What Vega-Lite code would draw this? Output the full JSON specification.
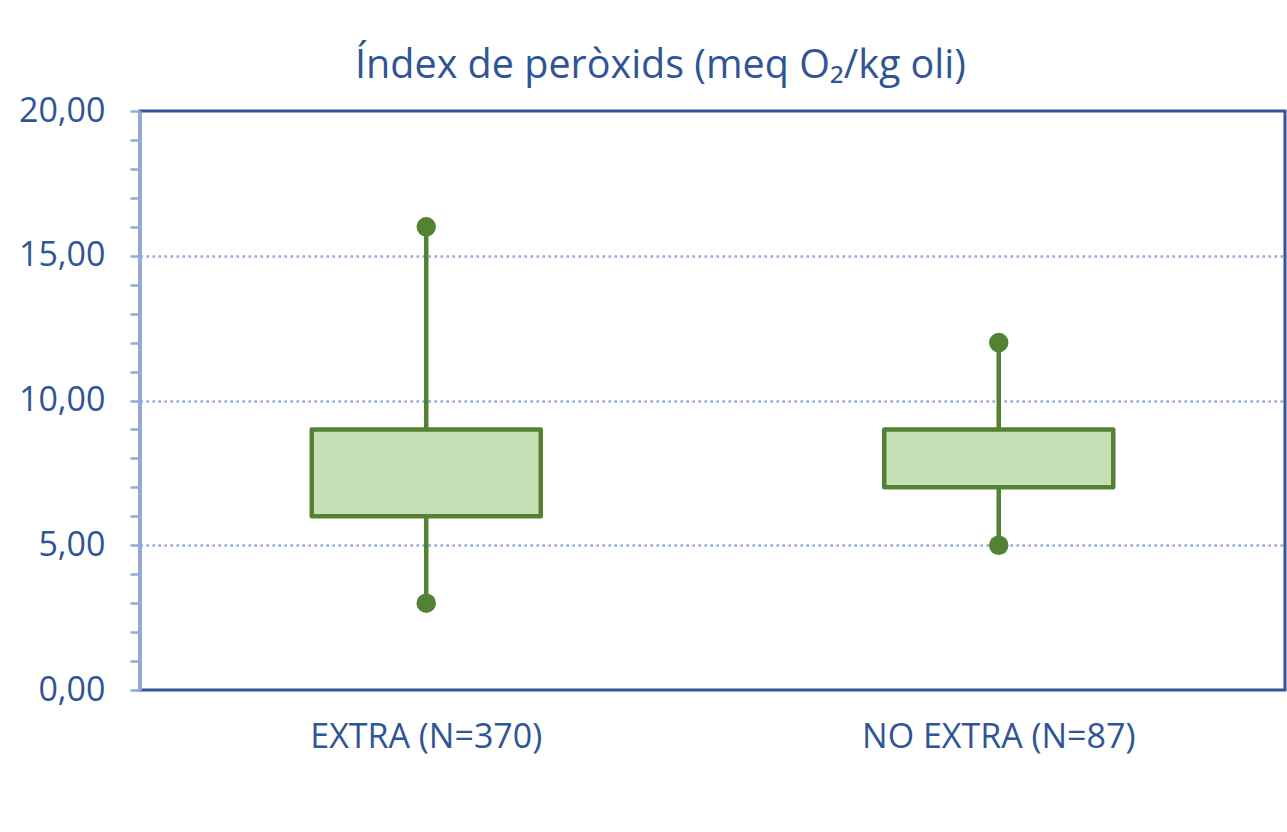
{
  "$schema": "https://vega.github.io/schema/vega-lite/v6.json",
  "autosize": {"type": "none"},
  "padding": {"left": 140, "top": 111, "right": 2, "bottom": 142},
  "width": 1145,
  "height": 579,
  "background": "white",
  "title": {
    "text": "Índex de peròxids (meq O₂/kg oli)",
    "font": "Open Sans",
    "fontSize": 39.5,
    "fontWeight": "normal",
    "color": "#2f5597",
    "anchor": "middle",
    "dx": -52,
    "offset": 8
  },
  "config": {
    "locale": {"number": {"decimal": ",", "thousands": ".", "grouping": [3], "currency": ["", " €"]}},
    "view": {"stroke": "#2f5597", "strokeWidth": 3},
    "font": "Open Sans"
  },
  "data": {
    "values": [
      {"cat": "EXTRA (N=370)", "min": 3, "q1": 6, "q3": 9, "max": 16},
      {"cat": "NO EXTRA (N=87)", "min": 5, "q1": 7, "q3": 9, "max": 12}
    ]
  },
  "encoding": {
    "x": {
      "field": "cat",
      "type": "nominal",
      "sort": null,
      "title": null,
      "scale": {"paddingInner": 0, "paddingOuter": 0},
      "axis": {
        "labelAngle": 0,
        "labelFont": "Open Sans",
        "labelFontSize": 34,
        "labelColor": "#2f5597",
        "labelPadding": 30,
        "labelLimit": 0,
        "domain": false,
        "ticks": false,
        "tickSize": 0,
        "grid": false
      }
    }
  },
  "layer": [
    {
      "mark": {"type": "rule", "color": "#548235", "strokeWidth": 4.5},
      "encoding": {
        "y": {
          "field": "min",
          "type": "quantitative",
          "title": null,
          "scale": {"domain": [0, 20], "nice": false},
          "axis": {
            "values": [0, 1, 2, 3, 4, 5, 6, 7, 8, 9, 10, 11, 12, 13, 14, 15, 16, 17, 18, 19, 20],
            "tickCount": 40,
            "format": ".2f",
            "labelExpr": "datum.value % 5 === 0 ? datum.label : ''",
            "labelOverlap": false,
            "labelFont": "Open Sans",
            "labelFontSize": 34,
            "labelColor": "#2f5597",
            "labelPadding": 25,
            "labelLimit": 0,
            "tickSize": 10,
            "tickColor": "#8faadc",
            "tickWidth": 2.5,
            "domainColor": "#8faadc",
            "domainWidth": 3,
            "grid": true,
            "gridColor": "#8faadc",
            "gridWidth": 2.5,
            "gridDash": [2.5, 3.5],
            "gridOpacity": {"condition": {"test": "datum.value % 5 === 0 && datum.value > 0 && datum.value < 20", "value": 1}, "value": 0}
          }
        },
        "y2": {"field": "max"}
      }
    },
    {
      "mark": {"type": "bar", "fill": "#c5e0b4", "stroke": "#548235", "strokeWidth": 4.5, "width": {"band": 0.4}, "strokeJoin": "round"},
      "encoding": {
        "y": {"field": "q1", "type": "quantitative"},
        "y2": {"field": "q3"}
      }
    },
    {
      "mark": {"type": "point", "filled": true, "color": "#548235", "opacity": 1, "size": 380},
      "encoding": {
        "y": {"field": "min", "type": "quantitative"}
      }
    },
    {
      "mark": {"type": "point", "filled": true, "color": "#548235", "opacity": 1, "size": 380},
      "encoding": {
        "y": {"field": "max", "type": "quantitative"}
      }
    }
  ]
}
